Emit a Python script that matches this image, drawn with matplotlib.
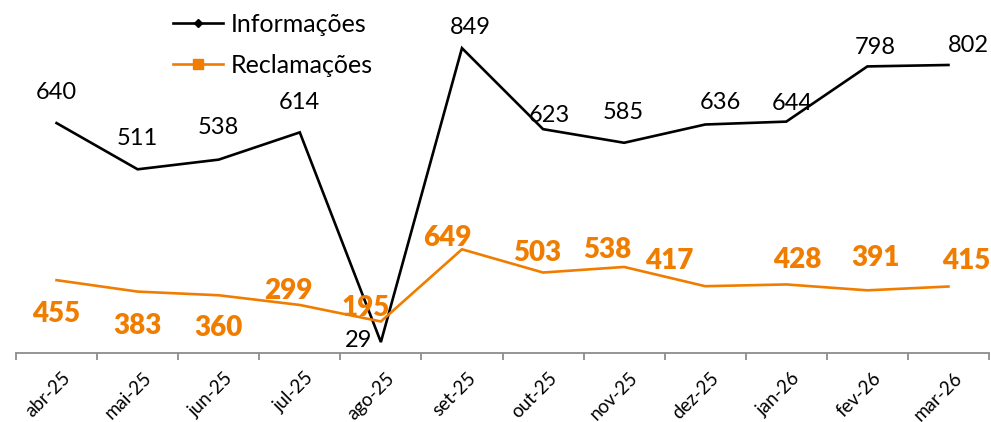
import matplotlib
matplotlib.use("Agg")
import matplotlib.pyplot as plt
from matplotlib.lines import Line2D
from matplotlib.transforms import ScaledTranslation

# ---- data ----
months = ["abr-25", "mai-25", "jun-25", "jul-25", "ago-25", "set-25",
          "out-25", "nov-25", "dez-25", "jan-26", "fev-26", "mar-26"]
informacoes = [640, 511, 538, 614, 29, 849, 623, 585, 636, 644, 798, 802]
reclamacoes = [455, 383, 360, 299, 195, 649, 503, 538, 417, 428, 391, 415]

# label offsets in pixels (dx, dy up)
info_off = [(0, 28), (0, 29), (0, 30), (0, 28), (-22, 0), (8, 19), (6, 12),
            (-1, 28), (15, 20), (6, 16), (8, 17), (20, 17)]
recl_off = [(0, -36), (0, -36), (0, -35), (-11, 12), (-15, 11), (-15, 9),
            (-6, 17), (-17, 15), (-36, 23), (11, 22), (8, 30), (18, 23)]

FONT = "Lato"
ORANGE = "#F07D00"
plt.rcParams["font.family"] = [FONT, "DejaVu Sans"]

W, H = 991, 422
fig = plt.figure(figsize=(W / 100, H / 100), dpi=100)
left, right, bottom_px, top_px = 16, 989, 352.5, 20
ax = fig.add_axes([left / W, (H - bottom_px) / H, (right - left) / W,
                   (bottom_px - top_px) / H])
ax2 = ax.twinx()

x = list(range(len(months)))
ax.plot(x, informacoes, color="black", lw=1.9, solid_joinstyle="miter", zorder=3)
ax2.plot(x, reclamacoes, color=ORANGE, lw=1.9, solid_joinstyle="miter", zorder=3)

h_px = bottom_px - top_px
ax.set_ylim(0, h_px / 0.3585)
ax2.set_ylim(0, h_px / 0.1590)
ax.set_xlim(-0.5, len(months) - 0.5)

k = 0.72
for i, v in enumerate(informacoes):
    dx, dy = info_off[i]
    ax.annotate(str(v), (i, v), xytext=(dx * k, dy * k + 1.5), textcoords="offset points",
                ha="center", va="center", fontsize=17, color="black", zorder=5)
for i, v in enumerate(reclamacoes):
    dx, dy = recl_off[i]
    ax2.annotate(str(v), (i, v), xytext=(dx * k, dy * k + 1.5), textcoords="offset points",
                 ha="center", va="center", fontsize=20, fontweight="heavy",
                 color=ORANGE, zorder=5)

for a in (ax, ax2):
    for s in ("left", "right", "top"):
        a.spines[s].set_visible(False)
    a.set_yticks([])
ax2.spines["bottom"].set_visible(False)
ax.spines["bottom"].set_color("#8c8c8c")
ax.spines["bottom"].set_linewidth(1.3)

ax.set_xticks(x)
ax.set_xticklabels(months, rotation=45, ha="right", va="top",
                   rotation_mode="anchor", fontsize=13.5)
ax.set_xticks([i - 0.5 for i in range(len(months) + 1)], minor=True)
ax.tick_params(axis="x", which="major", length=0, pad=12)
ax.tick_params(axis="x", which="minor", length=5, width=1.3, color="#8c8c8c")
for lab in ax.get_xticklabels():
    lab.set_transform(lab.get_transform() + ScaledTranslation(5 / 100, 0, fig.dpi_scale_trans))

handles = [Line2D([0], [0], color="black", lw=1.9, marker="D", markersize=4.5),
           Line2D([0], [0], color=ORANGE, lw=1.9, marker="s", markersize=7)]
fig.legend(handles, ["Informações", "Reclamações"], loc="upper left",
           bbox_to_anchor=(158 / W, 1 + 2 / H), frameon=False, fontsize=18,
           handlelength=2.0, handletextpad=0.3, labelspacing=0.72,
           borderpad=0.1)

fig.savefig("out.png", dpi=100)
